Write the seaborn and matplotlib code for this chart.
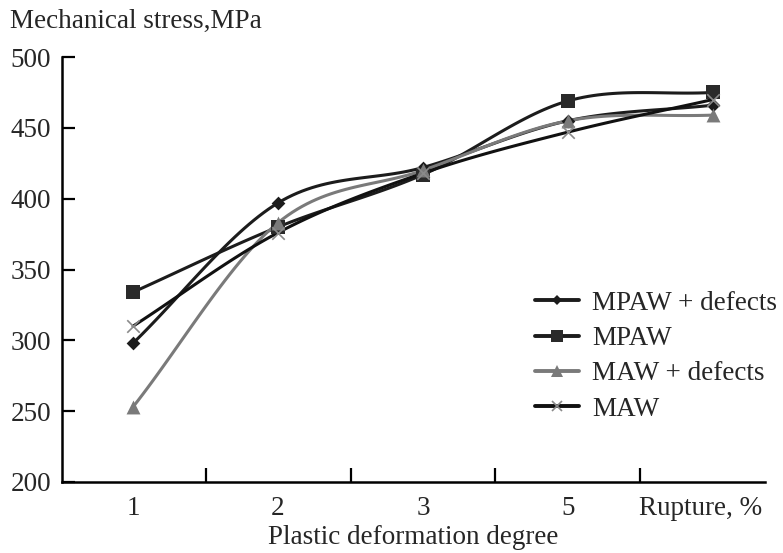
import numpy as np
import pandas as pd
import matplotlib
matplotlib.use("Agg")
import matplotlib.pyplot as plt
import matplotlib.transforms as mtransforms
import seaborn as sns

categories = ["1", "2", "3", "5", "Rupture, %"]
mpaw_defects = [298, 397, 422, 455, 466]
mpaw = [334, 380, 417, 469, 475]
maw_defects = [253, 383, 420, 455, 459]
maw = [310, 376, 418, 447, 470]

series_names = ["MPAW + defects", "MPAW", "MAW + defects", "MAW"]
series_values = [mpaw_defects, mpaw, maw_defects, maw]

sns.set_style("white")
plt.rcParams["font.family"] = ["Liberation Serif", "DejaVu Serif"]

FS = 19.5

fig = plt.figure(figsize=(7.83, 5.53), dpi=100)
ax = fig.add_axes([0.0792, 0.1284, 0.898, 0.7685])

styles = {
    "MPAW + defects": dict(color="#1c1c1c", marker="D", ms=7, mfc="#1c1c1c"),
    "MPAW": dict(color="#1c1c1c", marker="s", ms=10, mfc="#2a2a2a"),
    "MAW + defects": dict(color="#7a7a7a", marker="^", ms=10, mfc="#7a7a7a"),
    "MAW": dict(color="#111111", marker="x", ms=9, mfc="#8a8a8a"),
}


def smooth(xs, ys, n=30):
    # Catmull-Rom style smoothing for display of the connecting curve
    xs = np.asarray(xs, float)
    ys = np.asarray(ys, float)
    px = np.concatenate([[2 * xs[0] - xs[1]], xs, [2 * xs[-1] - xs[-2]]])
    py = np.concatenate([[2 * ys[0] - ys[1]], ys, [2 * ys[-1] - ys[-2]]])
    ox, oy = [], []
    for i in range(1, len(px) - 2):
        t = np.linspace(0, 1, n, endpoint=(i == len(px) - 3))
        for p, o in ((px, ox), (py, oy)):
            p0, p1, p2, p3 = p[i - 1], p[i], p[i + 1], p[i + 2]
            o.extend(0.5 * ((2 * p1) + (-p0 + p2) * t
                            + (2 * p0 - 5 * p1 + 4 * p2 - p3) * t ** 2
                            + (-p0 + 3 * p1 - 3 * p2 + p3) * t ** 3))
    return np.array(ox), np.array(oy)


xpos = np.arange(len(categories))
handles = []
for name, vals in zip(series_names, series_values):
    st = styles[name]
    sx, sy = smooth(xpos, vals)
    df_line = pd.DataFrame({"x": sx, "y": sy})
    sns.lineplot(data=df_line, x="x", y="y", ax=ax, color=st["color"],
                 linewidth=2.2, sort=False, estimator=None)
    df_pts = pd.DataFrame({"x": xpos, "y": vals})
    if st["marker"] == "x":
        sns.scatterplot(data=df_pts, x="x", y="y", ax=ax, marker="x",
                        color=st["mfc"], s=st["ms"] ** 2, linewidth=1.2, zorder=5)
    else:
        sns.scatterplot(data=df_pts, x="x", y="y", ax=ax, marker=st["marker"],
                        color=st["mfc"], s=st["ms"] ** 2, linewidth=0, zorder=5)
    h, = ax.plot([], [], color=st["color"], lw=2.8, marker=st["marker"],
                 ms=st["ms"] * 0.8, mfc=st["mfc"], mec=st["mfc"],
                 mew=1.2 if st["marker"] == "x" else 0)
    handles.append(h)

ax.set_xlim(-0.49, 4.36)
ax.set_ylim(200, 500)
ax.set_yticks([200, 250, 300, 350, 400, 450, 500])
ax.set_xticks(xpos)
ax.set_xticklabels(categories)
ax.set_xticks([0.5, 1.5, 2.5, 3.5], minor=True)
ax.tick_params(axis="x", which="major", length=0, pad=10, labelsize=FS)
ax.tick_params(axis="x", which="minor", direction="in", length=10, width=1.6,
               bottom=True, color="black")
ax.tick_params(axis="y", direction="in", length=9, width=1.6, left=True,
               labelsize=FS, pad=8, color="black")
# shift last category label slightly left, as in the reference
last = ax.get_xticklabels()[-1]
last.set_transform(last.get_transform() +
                   mtransforms.ScaledTranslation(-12 / 100, 0, fig.dpi_scale_trans))

for s in ["top", "right"]:
    ax.spines[s].set_visible(False)
for s in ["left", "bottom"]:
    ax.spines[s].set_linewidth(1.8)
    ax.spines[s].set_color("black")

ax.set_xlabel("Plastic deformation degree", fontsize=FS, labelpad=3)
ax.set_ylabel("")
fig.text(0.013, 0.949, "Mechanical stress,MPa", fontsize=FS, ha="left", va="baseline")

ax.legend(handles, series_names, loc="upper left", bbox_to_anchor=(0.673, 0.45),
          frameon=False, fontsize=FS, handlelength=1.6, handletextpad=0.5,
          labelspacing=0.38, borderaxespad=0, borderpad=0)

fig.savefig("out.png", dpi=100)
